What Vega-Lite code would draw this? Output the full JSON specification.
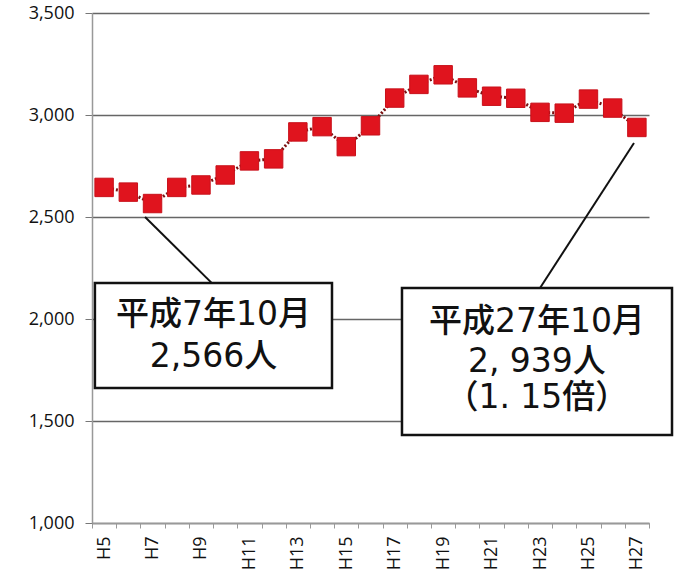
{
  "$schema": "https://vega.github.io/schema/vega-lite/v6.json",
  "width": 557,
  "height": 510,
  "autosize": {"type": "none"},
  "padding": {"left": 92, "top": 13, "right": 29, "bottom": 59},
  "background": "white",
  "config": {
    "view": {"stroke": null},
    "axis": {"labelFont": "Open Sans", "labelColor": "#111111", "title": null}
  },
  "datasets": {
    "pop": [
      {"year": 5, "people": 2645},
      {"year": 6, "people": 2622},
      {"year": 7, "people": 2566},
      {"year": 8, "people": 2645},
      {"year": 9, "people": 2657},
      {"year": 10, "people": 2706},
      {"year": 11, "people": 2775},
      {"year": 12, "people": 2785},
      {"year": 13, "people": 2917},
      {"year": 14, "people": 2943},
      {"year": 15, "people": 2845},
      {"year": 16, "people": 2947},
      {"year": 17, "people": 3083},
      {"year": 18, "people": 3150},
      {"year": 19, "people": 3197},
      {"year": 20, "people": 3133},
      {"year": 21, "people": 3092},
      {"year": 22, "people": 3082},
      {"year": 23, "people": 3013},
      {"year": 24, "people": 3009},
      {"year": 25, "people": 3078},
      {"year": 26, "people": 3034},
      {"year": 27, "people": 2939}
    ],
    "leaders": [
      {"x": 6.69, "people": 2500, "x2": 9.45, "people2": 2176},
      {"x": 26.88, "people": 2863, "x2": 23.0, "people2": 2152}
    ],
    "boxes": [
      {"x": 4.62, "x2": 14.41, "people": 2176, "people2": 1662},
      {"x": 17.30, "x2": 28.45, "people": 2152, "people2": 1431}
    ],
    "labels": [
      {"x": 9.52, "people": 2020, "text": "平成7年10月"},
      {"x": 9.52, "people": 1814, "text": "2,566人"},
      {"x": 22.87, "people": 1985, "text": "平成27年10月"},
      {"x": 22.87, "people": 1789, "text": "2, 939人"},
      {"x": 22.87, "people": 1613, "text": "（1. 15倍）"}
    ]
  },
  "encoding": {
    "y": {
      "field": "people",
      "type": "quantitative",
      "scale": {"domain": [1000, 3500], "nice": false, "zero": false},
      "axis": {
        "values": [1000, 1500, 2000, 2500, 3000, 3500],
        "format": ",d",
        "labelFontSize": 18,
        "labelPadding": 11,
        "tickSize": 7,
        "tickColor": "#777777",
        "domainColor": "#999999",
        "domainWidth": 1.5,
        "grid": true,
        "gridColor": "#666666",
        "gridWidth": 1.5
      }
    }
  },
  "layer": [
    {
      "data": {"name": "pop"},
      "encoding": {
        "x": {
          "field": "year",
          "type": "ordinal",
          "bandPosition": 0.5,
          "scale": {"type": "band", "paddingInner": 0, "paddingOuter": 0},
          "axis": {
            "tickBand": "extent",
            "labelExpr": "datum.value % 2 == 1 ? 'H' + datum.value : ''",
            "labelAngle": -90,
            "labelAlign": "right",
            "labelBaseline": "middle",
            "labelFontSize": 18,
            "labelPadding": 8,
            "tickSize": 5,
            "tickColor": "#999999",
            "domainColor": "#999999",
            "domainWidth": 1.5,
            "grid": false
          }
        }
      },
      "layer": [
        {"mark": {"type": "line", "color": "#7a1010", "strokeWidth": 3, "strokeDash": [2, 2]}},
        {"mark": {"type": "point", "shape": "square", "filled": true, "size": 340, "color": "#e0141e", "opacity": 1, "stroke": "#c8101a", "strokeWidth": 1}}
      ]
    },
    {
      "encoding": {
        "x": {"field": "x", "type": "quantitative", "scale": {"domain": [4.5, 27.5], "nice": false, "zero": false}, "axis": null}
      },
      "layer": [
        {
          "data": {"name": "leaders"},
          "mark": {"type": "rule", "color": "#111111", "strokeWidth": 2},
          "encoding": {"x2": {"field": "x2"}, "y2": {"field": "people2"}}
        },
        {
          "data": {"name": "boxes"},
          "mark": {"type": "rect", "fill": "white", "stroke": "#111111", "strokeWidth": 2.5},
          "encoding": {"x2": {"field": "x2"}, "y2": {"field": "people2"}}
        },
        {
          "data": {"name": "labels"},
          "mark": {"type": "text", "font": "DejaVu Sans, Noto Sans CJK JP", "fontSize": 33, "fontWeight": 500, "color": "#111111", "align": "center", "baseline": "middle"},
          "encoding": {"text": {"field": "text"}}
        }
      ]
    }
  ],
  "resolve": {"scale": {"x": "independent"}, "axis": {"x": "independent"}}
}
